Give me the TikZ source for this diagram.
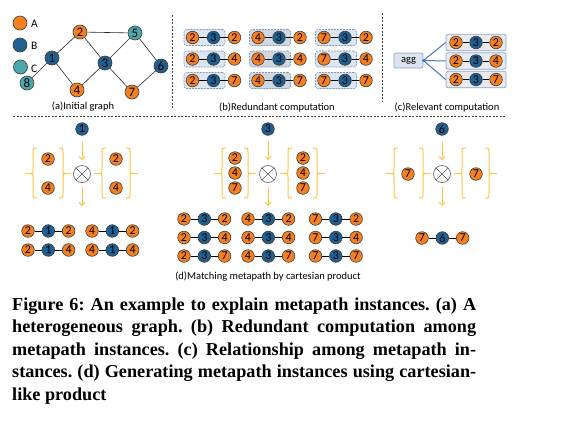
\documentclass[tikz,border=0pt]{standalone}
\usepackage{fontspec}
\setmainfont{Liberation Serif}
\newfontfamily\carl{Carlito}
\usetikzlibrary{arrows.meta}
\frenchspacing
\definecolor{orN}{RGB}{245,128,32}
\definecolor{blN}{RGB}{30,96,145}
\definecolor{teN}{RGB}{75,168,170}
\definecolor{ndb}{RGB}{60,60,60}
\definecolor{bxb}{RGB}{125,155,190}
\definecolor{bxf}{RGB}{220,230,242}
\definecolor{bxg}{RGB}{208,215,225}
\definecolor{cbb}{RGB}{140,165,200}
\definecolor{cbf}{RGB}{232,234,238}
\definecolor{agf}{RGB}{220,228,238}
\definecolor{cln}{RGB}{68,114,196}
\definecolor{yel}{RGB}{255,196,70}
\newcommand{\triple}[7]{%
  \node[nA] (#1a) at (#2,#3) {#4};
  \node[nB] (#1b) at (#2+#7,#3) {#5};
  \node[nA] (#1c) at (#2+2*#7,#3) {#6};
  \draw[edge] (#1a) -- (#1b) -- (#1c);}
\newcommand{\lbr}[1]{%
  \draw[brace] (#1+4,148) .. controls (#1,148) .. (#1,152) -- (#1,169.5) .. controls (#1,173.5) .. (#1-4,173.5) .. controls (#1,173.5) .. (#1,177.5) -- (#1,194) .. controls (#1,198) .. (#1+4,198);
  \draw[brace] (#1-4,173.5) -- (#1-8,173.5);}
\newcommand{\rbr}[1]{%
  \draw[brace] (#1-4,148) .. controls (#1,148) .. (#1,152) -- (#1,169.5) .. controls (#1,173.5) .. (#1+4,173.5) .. controls (#1,173.5) .. (#1,177.5) -- (#1,194) .. controls (#1,198) .. (#1-4,198);
  \draw[brace] (#1+4,173.5) -- (#1+8,173.5);}
\begin{document}
\begin{tikzpicture}[x=1pt,y=-1pt,
  nd/.style={circle,draw=ndb,line width=0.6pt,inner sep=0pt,minimum size=12.6pt,font=\carl\fontsize{12}{12}\selectfont},
  nA/.style={nd,fill=orN}, nB/.style={nd,fill=blN}, nC/.style={nd,fill=teN},
  big/.style={minimum size=14pt,font=\carl\fontsize{13}{13}\selectfont},
  edge/.style={draw=black,line width=0.7pt},
  gedge/.style={draw=black!85,line width=0.6pt},
  lab/.style={font=\carl\fontsize{10.5}{12}\selectfont,inner sep=0pt},
  sep/.style={draw=black!75,line width=0.5pt,dash pattern=on 2pt off 1.5pt},
  bbox/.style={draw=bxb,dash pattern=on 2pt off 1pt,rounded corners=2.5pt,fill=bxf,minimum width=41pt,minimum height=16pt,inner sep=0pt,line width=0.6pt},
  gbox/.style={bbox,fill=bxg},
  cbox/.style={draw=cbb,fill=cbf,rounded corners=2pt,minimum width=60pt,minimum height=16.5pt,inner sep=0pt,line width=0.7pt},
  arr/.style={draw=yel,line width=1pt,-{Straight Barb[length=3pt,width=6pt]}},
  brace/.style={draw=yel,line width=1pt},
  otimes/.style={circle,draw=black!65,fill=white,minimum size=17pt,inner sep=0pt,line width=0.6pt},
  captxt/.style={font=\bfseries\fontsize{18.2}{22.5}\selectfont,inner sep=0pt,anchor=base west}
]
\useasboundingbox (0,0) rectangle (561,424);
% separators
\coordinate (v1t) at (172,15); \coordinate (v1b) at (172,109);
\coordinate (v2t) at (382,13); \coordinate (v2b) at (382,102);
\coordinate (hl) at (13,116); \coordinate (hr) at (505,116);
\draw[sep] (v1t) -- (v1b);
\draw[sep] (v2t) -- (v2b);
\draw[sep] (hl) -- (hr);
% (a) legend
\node[nA,big] (legA) at (20,23) {};
\node[nB,big] (legB) at (20,45) {};
\node[nC,big] (legC) at (20.5,67) {};
\node[lab,anchor=west,font=\carl\fontsize{11.5}{12}\selectfont] (tA) at (31,24) {A};
\node[lab,anchor=west,font=\carl\fontsize{11.5}{12}\selectfont] (tB) at (31,46) {B};
\node[lab,anchor=west,font=\carl\fontsize{11.5}{12}\selectfont] (tC) at (31,69) {C};
% (a) graph
\node[nC,big] (g8) at (27,83) {8};
\node[nB,big] (g1) at (52,58) {1};
\node[nA,big] (g2) at (80,32) {2};
\node[nA,big] (g4) at (77,90) {4};
\node[nB,big] (g3) at (105,63) {3};
\node[nC,big] (g5) at (135,33) {5};
\node[nB,big] (g6) at (161,66) {6};
\node[nA,big] (g7) at (132,92) {7};
\draw[gedge] (g8) -- (g1) (g1) -- (g2) (g1) -- (g4) (g2) -- (g5) (g2) -- (g3)
  (g4) -- (g3) (g3) -- (g5) (g3) -- (g7) (g5) -- (g6) (g6) -- (g7);
\node[lab] (la) at (83,107) {(a)Initial graph};
% (b) boxes
\foreach \r/\y in {1/37.5,2/59,3/80.5}{
  \node[bbox] (bxa\r) at (204.5,\y) {};
  \node[gbox] (bxb\r) at (270,\y) {};
  \node[bbox] (bxc\r) at (336,\y) {};
}
\triple{b11}{192.5}{37.5}{2}{3}{2}{21}
\triple{b12}{192.5}{59}{2}{3}{4}{21}
\triple{b13}{192.5}{80.5}{2}{3}{7}{21}
\triple{b21}{258}{37.5}{4}{3}{2}{21}
\triple{b22}{258}{59}{4}{3}{4}{21}
\triple{b23}{258}{80.5}{4}{3}{7}{21}
\triple{b31}{324}{37.5}{7}{3}{2}{21}
\triple{b32}{324}{59}{7}{3}{4}{21}
\triple{b33}{324}{80.5}{7}{3}{7}{21}
\node[lab] (lb) at (277,107) {(b)Redundant computation};
% (c)
\node[draw=cbb,fill=agf,rounded corners=2pt,minimum width=29pt,minimum height=15pt,inner sep=0pt,line width=0.7pt,font=\carl\fontsize{10.5}{12}\selectfont] (agg) at (408.5,60.5) {agg};
\node[cbox] (cb1) at (476,42.5) {};
\node[cbox] (cb2) at (476,61) {};
\node[cbox] (cb3) at (476,79.5) {};
\draw[cln,line width=1pt] (agg.east) -- (cb1.west) (agg.east) -- (cb2.west) (agg.east) -- (cb3.west);
\fill[cln] (agg.east) circle (1.4pt);
\triple{c1}{456}{42.5}{2}{3}{2}{20}
\triple{c2}{456}{61}{2}{3}{4}{20}
\triple{c3}{456}{79.5}{2}{3}{7}{20}
\node[lab] (lc) at (447,107) {(c)Relevant computation};
% (d) group 1
\node[nB] (d1s) at (82,129) {1};
\node[otimes] (o1) at (82,174) {};
\draw[black!65,line width=0.6pt] (o1.north west) -- (o1.south east) (o1.north east) -- (o1.south west);
\coordinate (o1e) at (82,206);
\draw[arr,shorten <=6pt,shorten >=5pt] (d1s) -- (o1);
\draw[arr,shorten <=4pt] (o1) -- (o1e);
\lbr{33}\rbr{63}\lbr{102}\rbr{130}
\node[nA] (d1l1) at (48,159) {2};
\node[nA] (d1l2) at (48,188) {4};
\node[nA] (d1r1) at (116,159) {2};
\node[nA] (d1r2) at (116,188) {4};
\triple{e11}{28}{231}{2}{1}{2}{20.3}
\triple{e12}{28}{250}{2}{1}{4}{20.3}
\triple{e21}{92}{231}{4}{1}{2}{20.3}
\triple{e22}{92}{250}{4}{1}{4}{20.3}
% (d) group 2
\node[nB] (d2s) at (268,129) {3};
\node[otimes] (o2) at (268,174) {};
\draw[black!65,line width=0.6pt] (o2.north west) -- (o2.south east) (o2.north east) -- (o2.south west);
\coordinate (o2e) at (268,206);
\draw[arr,shorten <=6pt,shorten >=5pt] (d2s) -- (o2);
\draw[arr,shorten <=4pt] (o2) -- (o2e);
\lbr{222}\rbr{248}\lbr{288}\rbr{317}
\node[nA] (d2l1) at (235,158) {2};
\node[nA] (d2l2) at (235,173) {4};
\node[nA] (d2l3) at (235,188) {7};
\node[nA] (d2r1) at (303,158) {2};
\node[nA] (d2r2) at (303,173) {4};
\node[nA] (d2r3) at (303,188) {7};
\triple{f11}{184}{219}{2}{3}{2}{20.3}
\triple{f12}{184}{237.5}{2}{3}{4}{20.3}
\triple{f13}{184}{256}{2}{3}{7}{20.3}
\triple{f21}{248}{219}{4}{3}{2}{20.3}
\triple{f22}{248}{237.5}{4}{3}{4}{20.3}
\triple{f23}{248}{256}{4}{3}{7}{20.3}
\triple{f31}{315.5}{219}{7}{3}{2}{20.3}
\triple{f32}{315.5}{237.5}{7}{3}{4}{20.3}
\triple{f33}{315.5}{256}{7}{3}{7}{20.3}
% (d) group 3
\node[nB] (d3s) at (442,129) {6};
\node[otimes] (o3) at (442,174) {};
\draw[black!65,line width=0.6pt] (o3.north west) -- (o3.south east) (o3.north east) -- (o3.south west);
\coordinate (o3e) at (442,206);
\draw[arr,shorten <=6pt,shorten >=5pt] (d3s) -- (o3);
\draw[arr,shorten <=4pt] (o3) -- (o3e);
\lbr{394}\rbr{423}\lbr{462}\rbr{489}
\node[nA] (d3l) at (408,174) {7};
\node[nA] (d3r) at (476,174) {7};
\triple{g31}{422}{238}{7}{6}{7}{20.3}
\node[lab] (ld) at (268,277) {(d)Matching metapath by cartesian product};
% caption
\node[captxt] (cap1) at (12,310) {\makebox[464pt][s]{Figure 6: An example to explain metapath instances. (a) A}};
\node[captxt] (cap2) at (12,332.5) {\makebox[464pt][s]{heterogeneous graph. (b) Redundant computation among}};
\node[captxt] (cap3) at (12,355) {\makebox[464pt][s]{metapath instances. (c) Relationship among metapath in-}};
\node[captxt] (cap4) at (12,377.5) {\makebox[464pt][s]{stances. (d) Generating metapath instances using cartesian-}};
\node[captxt] (cap5) at (12,400) {like product};
\end{tikzpicture}
\end{document}
